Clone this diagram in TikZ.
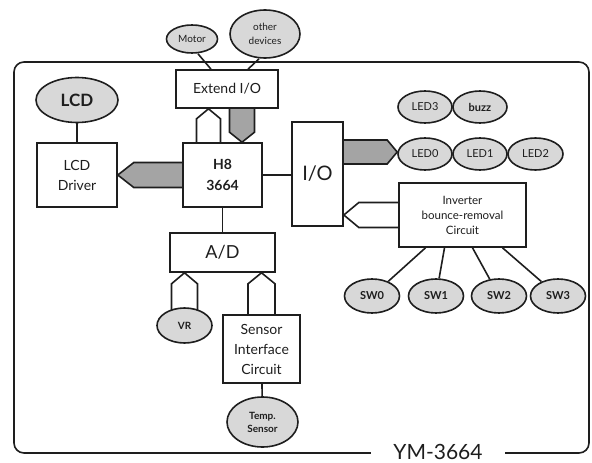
\documentclass[tikz,border=0pt]{standalone}
\usepackage{fontspec}
\setmainfont{Lato}
\usetikzlibrary{shapes.geometric,calc,backgrounds}
\definecolor{ink}{HTML}{1E1E1E}
\definecolor{bubblegray}{HTML}{D8D8D8}
\definecolor{busgray}{HTML}{A4A4A4}
\tikzset{
  box/.style={draw=ink,line width=1.6pt,fill=white,align=center,inner sep=0pt,text=ink},
  bubble/.style={ellipse,draw=ink,line width=1.6pt,fill=bubblegray,align=center,inner sep=0pt,text=ink},
  wire/.style={draw=ink,line width=1.6pt},
  hollowbus/.style={draw=ink,line width=1.6pt,fill=white},
  solidbus/.style={draw=ink,line width=1.6pt,fill=busgray},
}
% bus arrow: [style]{start}{tip}{half width}{head length}
\newcommand{\busarrow}[5][hollowbus]{%
  \coordinate (bs) at (#2);%
  \coordinate (bt) at (#3);%
  \coordinate (bh) at ($(bt)!#5!(bs)$);%
  \draw[#1] ($(bs)!#4!90:(bt)$) -- ($(bh)!#4!90:(bt)$) -- (bt) -- ($(bh)!#4!-90:(bt)$) -- ($(bs)!#4!-90:(bt)$);%
}
\begin{document}
\begin{tikzpicture}[x=1pt,y=-1pt]%
\useasboundingbox (0,0) rectangle (592,463);%
% board outline
\draw[wire,rounded corners=10pt] (14,62) rectangle (589,453);%
\node[fill=white,inner xsep=22pt,inner ysep=0pt,text=ink,font=\fontsize{21}{25}\selectfont] (title) at (438,452) {YM-3664};%
% blocks
\node[box,minimum width=102,minimum height=38,font=\fontsize{14}{20}\selectfont] (ext) at (227,89) {Extend I/O};%
\node[box,minimum width=80,minimum height=64,font=\fontsize{14}{20}\selectfont] (lcdd) at (77,175) {LCD\\Driver};%
\node[box,minimum width=79,minimum height=64,font=\bfseries\fontsize{14}{21}\selectfont] (h8) at (222.5,175) {H8\\3664};%
\node[box,minimum width=51,minimum height=104,font=\fontsize{20}{24}\selectfont] (io) at (317.5,174) {I/O};%
\node[box,minimum width=127,minimum height=64,font=\fontsize{11.5}{15}\selectfont] (inv) at (462.5,215) {Inverter\\bounce-removal\\Circuit};%
\node[box,minimum width=105,minimum height=39,font=\fontsize{18}{22}\selectfont] (ad) at (222.5,252.5) {A/D};%
\node[box,minimum width=77,minimum height=68,font=\fontsize{14}{20}\selectfont] (sensor) at (261.5,349) {Sensor\\Interface\\Circuit};%
% devices
\node[bubble,minimum width=51,minimum height=28,font=\fontsize{10}{12}\selectfont] (motor) at (192,39) {Motor};%
\node[bubble,minimum width=70,minimum height=48,font=\fontsize{10}{14}\selectfont] (other) at (265,34) {other\\devices};%
\node[bubble,minimum width=82,minimum height=45,font=\bfseries\fontsize{17}{20}\selectfont] (lcd) at (77,100) {LCD};%
\node[bubble,minimum width=54,minimum height=32,font=\fontsize{11}{13}\selectfont] (led3) at (425,107) {LED3};%
\node[bubble,minimum width=54,minimum height=32,font=\bfseries\fontsize{11}{13}\selectfont] (buzz) at (480,107) {buzz};%
\node[bubble,minimum width=54,minimum height=32,font=\fontsize{11}{13}\selectfont] (led0) at (425,154) {LED0};%
\node[bubble,minimum width=54,minimum height=32,font=\fontsize{11}{13}\selectfont] (led1) at (480,154) {LED1};%
\node[bubble,minimum width=55,minimum height=32,font=\fontsize{11}{13}\selectfont] (led2) at (535.5,154) {LED2};%
\foreach \i/\x in {0/372,1/436,2/499,3/558}{%
  \node[bubble,minimum width=55,minimum height=34,font=\bfseries\fontsize{11}{13}\selectfont] (sw\i) at (\x,296) {SW\i};%
}%
\node[bubble,minimum width=55,minimum height=35,font=\bfseries\fontsize{10}{12}\selectfont] (vr) at (184.5,325.5) {VR};%
\node[bubble,minimum width=71,minimum height=50,font=\bfseries\fontsize{10}{13}\selectfont] (temp) at (262.5,422) {Temp.\\Sensor};%
% connections
\begin{scope}[on background layer]%
\draw[wire] (motor.south) ++(6,0) -- ($(ext.north)+(-16,0)$);%
\draw[wire] (other.south) ++(-6,0) -- ($(ext.north)+(21,0)$);%
\draw[wire] (lcd) -- (lcdd);%
\draw[wire] (h8.east) -- (h8.east -| io.west);%
\draw[wire] (h8) -- (ad);%
\draw[wire] (sensor) -- (temp);%
\foreach \i/\dx in {0/-37,1/-18,2/10,3/40}{%
  \draw[wire] ($(inv.south)+(\dx,0)$) -- (sw\i);%
}%
\busarrow[hollowbus]{$(h8.north)+(-14,0)$}{bs |- ext.south}{12pt}{10pt}%
\busarrow[solidbus]{$(ext.south)+(15,0)$}{bs |- h8.north}{12.5pt}{10pt}%
\busarrow[solidbus]{h8.west}{bs -| lcdd.east}{12.5pt}{16pt}%
\busarrow[solidbus]{$(io.east)+(0,-22)$}{bs -| led0.west}{12pt}{10pt}%
\busarrow[hollowbus]{inv.west}{bs -| io.east}{12.5pt}{15pt}%
\busarrow[hollowbus]{$(vr.north)+(0,6)$}{bs |- ad.south}{13pt}{11pt}%
\busarrow[hollowbus]{$(sensor.north)+(0,3)$}{bs |- ad.south}{13.5pt}{11pt}%
\end{scope}%
\end{tikzpicture}
\end{document}
